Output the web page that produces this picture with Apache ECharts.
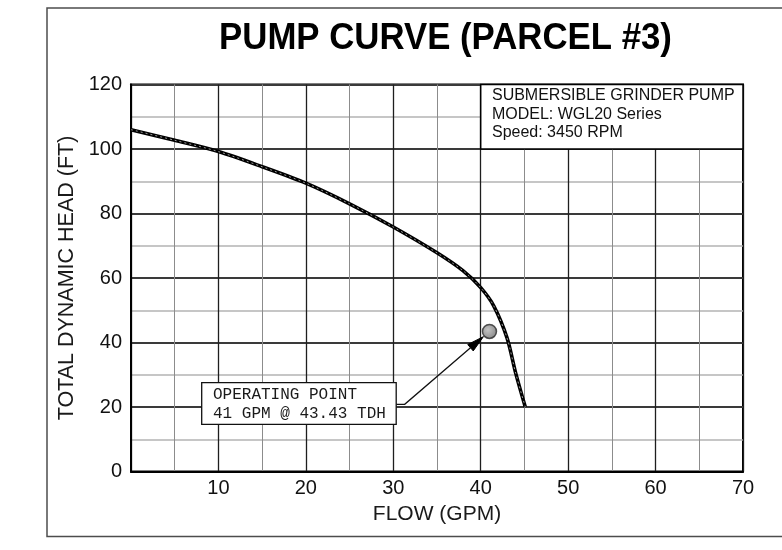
<!DOCTYPE html>
<html>
<head>
<meta charset="utf-8">
<script src="https://cdn.jsdelivr.net/npm/echarts@6/dist/echarts.min.js"></script>
<style>
  html, body { margin: 0; padding: 0; background: #fff; }
  #chart { width: 782px; height: 550px; }
</style>
</head>
<body>
<div id="chart"></div>
<script>
// Pump performance curve: flow (GPM) vs total dynamic head (ft)
const flowGpm = [0, 5, 10, 15, 20, 25, 30, 35, 38, 40, 41.5, 43, 44, 45.1];
const headFt  = [106, 102.7, 99.2, 94.5, 89.4, 83, 75.8, 67.8, 62.2, 57, 51.3, 41.5, 30.5, 20];

// Duty point
const operatingPoint = [41, 43.43];

// Axis ranges: [min, max, interval]
const flowAxis = [0, 70, 10];
const headAxis = [0, 120, 20];

// Pump nameplate box, spanning these flow / head ranges
const infoFlowRange = [40, 70];
const infoHeadRange = [100, 120];
const infoLines = ['SUBMERSIBLE GRINDER PUMP', 'MODEL: WGL20 Series', 'Speed: 3450 RPM'];

const titleText = 'PUMP CURVE (PARCEL #3)';
const flowTitle = 'FLOW (GPM)';
const headTitle = 'TOTAL DYNAMIC HEAD (FT)';
const opLines = ['OPERATING POINT', operatingPoint[0] + ' GPM @ ' + operatingPoint[1] + ' TDH'];

const curveData = flowGpm.map((q, i) => [q, headFt[i]]);

const chart = echarts.init(document.getElementById('chart'), null, { renderer: 'canvas' });

const sans = 'Liberation Sans';

chart.setOption({
  backgroundColor: '#fff',
  animation: false,
  grid: {
    left: 131, right: 39, top: 84.5, bottom: 78.5,
    show: true, borderColor: '#000', borderWidth: 2, backgroundColor: 'transparent'
  },
  xAxis: {
    type: 'value',
    min: flowAxis[0], max: flowAxis[1], interval: flowAxis[2],
    name: flowTitle,
    nameLocation: 'middle',
    nameGap: 32,
    nameTextStyle: { fontFamily: sans, fontSize: 21, color: '#1a1a1a' },
    axisLine: { show: true, lineStyle: { color: '#000', width: 2 } },
    axisTick: { show: false },
    axisLabel: {
      showMinLabel: false, margin: 7,
      fontFamily: sans, fontSize: 20, color: '#111'
    },
    splitLine: { show: true, lineStyle: { color: '#1e1e1e', width: 1.3 } },
    minorTick: { show: false, splitNumber: 2 },
    minorSplitLine: { show: true, lineStyle: { color: '#8c8c8c', width: 1 } }
  },
  yAxis: {
    type: 'value',
    min: headAxis[0], max: headAxis[1], interval: headAxis[2],
    name: headTitle,
    nameLocation: 'middle',
    nameRotate: 90,
    nameGap: 42,
    nameTextStyle: { fontFamily: sans, fontSize: 21.5, color: '#1a1a1a' },
    axisLine: { show: true, lineStyle: { color: '#000', width: 2 } },
    axisTick: { show: false },
    axisLabel: { margin: 9, fontFamily: sans, fontSize: 20, color: '#111' },
    splitLine: { show: true, lineStyle: { color: '#3a3a3a', width: 1.8 } },
    minorTick: { show: false, splitNumber: 2 },
    minorSplitLine: { show: true, lineStyle: { color: '#b3b3b3', width: 1.6 } }
  },
  series: [
    {
      name: 'Pump curve',
      type: 'line',
      data: curveData,
      smooth: 0.3,
      showSymbol: false,
      silent: true,
      z: 3,
      lineStyle: { color: '#000', width: 3.6 },
      markArea: {
        silent: true,
        itemStyle: { color: '#fff', borderColor: '#000', borderWidth: 1.5 },
        label: {
          show: true,
          position: [12, 3],
          align: 'left',
          verticalAlign: 'top',
          fontFamily: sans,
          fontSize: 16,
          lineHeight: 18.5,
          color: '#111',
          formatter: infoLines.join('\n')
        },
        data: [[
          { coord: [infoFlowRange[0], infoHeadRange[1]] },
          { coord: [infoFlowRange[1], infoHeadRange[0]] }
        ]]
      }
    },
    {
      // faint hatch inside the heavy curve stroke
      name: 'Pump curve hatch',
      type: 'line',
      data: curveData,
      smooth: 0.3,
      showSymbol: false,
      silent: true,
      z: 4,
      lineStyle: { color: '#9a9a9a', width: 1, type: [2, 3] }
    },
    {
      name: 'Operating point',
      type: 'scatter',
      data: [operatingPoint],
      symbol: 'circle',
      symbolSize: 14,
      silent: true,
      z: 6,
      itemStyle: {
        color: {
          type: 'radial', x: 0.4, y: 0.4, r: 0.6,
          colorStops: [{ offset: 0, color: '#b5b5b5' }, { offset: 1, color: '#6e6e6e' }]
        },
        borderColor: '#2a2a2a',
        borderWidth: 1.5
      }
    }
  ]
});

// Callout box and leader arrow pointing at the duty point
const pt = chart.convertToPixel({ gridIndex: 0 }, operatingPoint);
const box = { x: 201.7, y: 382.7, w: 194.5, h: 41.6 };
const elbow = [box.x + box.w + 8.5, box.y + box.h / 2 + 0.8];
const start = [box.x + box.w, elbow[1]];
let dx = pt[0] - elbow[0], dy = pt[1] - elbow[1];
const len = Math.sqrt(dx * dx + dy * dy);
dx /= len; dy /= len;
const tip = [pt[0] - dx * 8, pt[1] - dy * 8];
const headLen = 17, headHalf = 4.2;
const base = [tip[0] - dx * headLen, tip[1] - dy * headLen];
const perp = [-dy, dx];

chart.setOption({
  graphic: [
    {
      type: 'rect', z: 1, silent: true,
      shape: { x: 47, y: 8, width: 800, height: 528.5 },
      style: { fill: 'none', stroke: '#4d4d4d', lineWidth: 1.5 }
    },
    {
      type: 'text', z: 10, silent: true,
      x: 445.5, y: 38.5, scaleX: 0.94,
      style: {
        text: titleText, x: 0, y: 0,
        align: 'center', verticalAlign: 'middle',
        fontFamily: sans, fontWeight: 'bold', fontSize: 37, fill: '#000'
      }
    },
    {
      type: 'polyline', z: 20, silent: true,
      shape: { points: [start, elbow, base] },
      style: { stroke: '#111', lineWidth: 1.3, fill: 'none' }
    },
    {
      type: 'polygon', z: 21, silent: true,
      shape: {
        points: [
          tip,
          [base[0] + perp[0] * headHalf, base[1] + perp[1] * headHalf],
          [base[0] - perp[0] * headHalf, base[1] - perp[1] * headHalf]
        ]
      },
      style: { fill: '#000', stroke: '#000', lineWidth: 1 }
    },
    {
      type: 'rect', z: 20, silent: true,
      shape: { x: box.x, y: box.y, width: box.w, height: box.h },
      style: { fill: '#fff', stroke: '#111', lineWidth: 1.3 }
    },
    {
      type: 'text', z: 21, silent: true,
      style: {
        text: opLines[0], x: 213, y: 395,
        align: 'left', verticalAlign: 'middle',
        fontFamily: 'Liberation Mono', fontSize: 16, fill: '#1a1a1a'
      }
    },
    {
      type: 'text', z: 21, silent: true,
      style: {
        text: opLines[1], x: 213, y: 413.3,
        align: 'left', verticalAlign: 'middle',
        fontFamily: 'Liberation Mono', fontSize: 16, fill: '#1a1a1a'
      }
    }
  ]
});
</script>
</body>
</html>
